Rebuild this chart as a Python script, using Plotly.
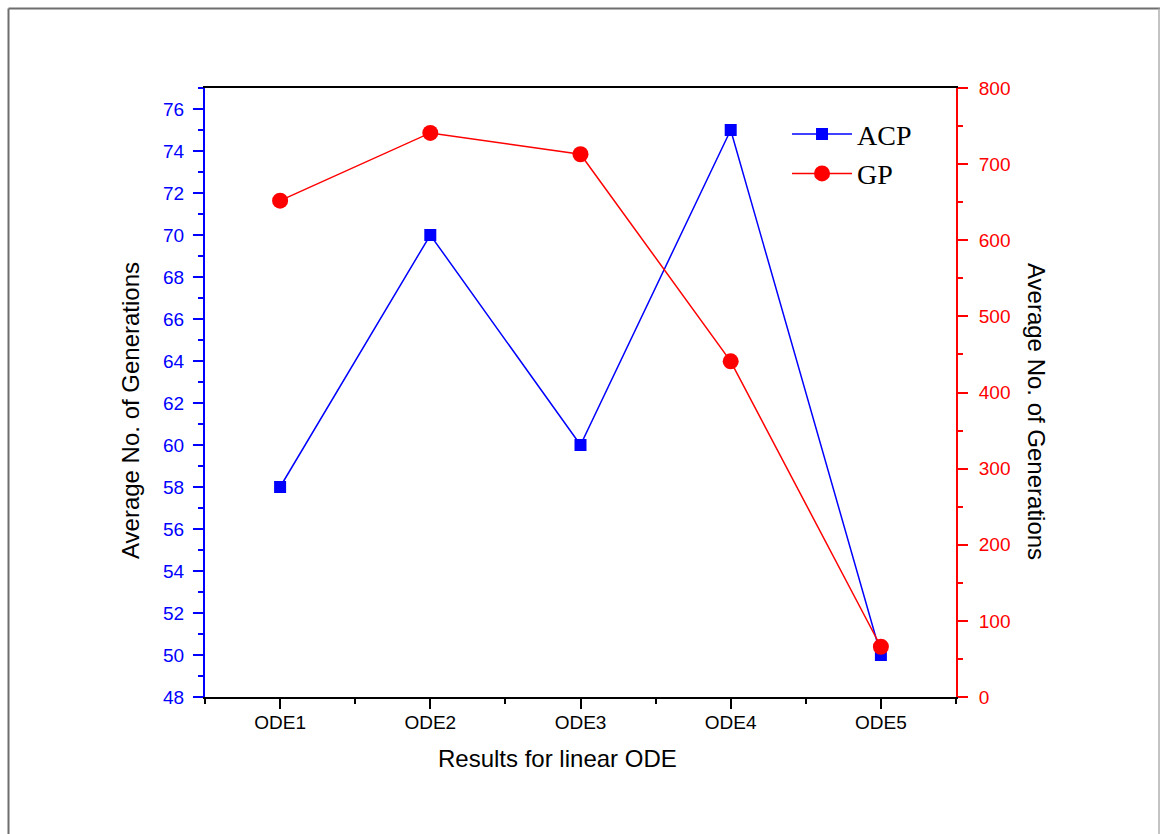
import plotly.graph_objects as go

categories = ["ODE1", "ODE2", "ODE3", "ODE4", "ODE5"]
x_pos = [1, 2, 3, 4, 5]
acp_values = [58, 70, 60, 75, 50]
gp_values = [652, 741, 713, 441, 66]

W, H = 1160, 834
L, R, T, B = 205, 956, 88, 697

fig = go.Figure()
fig.add_trace(go.Scatter(
    x=x_pos, y=acp_values, name="ACP", mode="lines+markers",
    line=dict(color="#0000ff", width=1.5),
    marker=dict(symbol="square", size=12, color="#0000ff"),
    yaxis="y"))
fig.add_trace(go.Scatter(
    x=x_pos, y=gp_values, name="GP", mode="lines+markers",
    line=dict(color="#ff0000", width=1.5),
    marker=dict(symbol="circle", size=16, color="#ff0000"),
    yaxis="y2"))

tickfont = dict(family="Liberation Sans, Arial", size=19)

fig.update_layout(
    width=W, height=H,
    margin=dict(l=L, r=W - R, t=T, b=H - B, pad=0),
    paper_bgcolor="white", plot_bgcolor="white",
    showlegend=True,
    legend=dict(x=0.775, y=0.965, xanchor="left", yanchor="top",
                font=dict(family="Liberation Serif, Times New Roman", size=28, color="black"),
                bgcolor="rgba(0,0,0,0)", tracegroupgap=0, itemwidth=60),
    xaxis=dict(range=[0.5, 5.5], tickmode="array", tickvals=x_pos, ticktext=categories,
               showline=True, linecolor="black", linewidth=2, mirror=True,
               ticks="outside", ticklen=10, tickwidth=2, tickcolor="black",
               minor=dict(tickmode="linear", tick0=0.5, dtick=1, ticks="outside",
                          ticklen=5, tickwidth=2, tickcolor="black"),
               showgrid=False, zeroline=False, ticklabelstandoff=-3,
               tickfont=dict(tickfont, color="black")),
    yaxis=dict(range=[48, 77], tick0=48, dtick=2,
               showline=True, linecolor="#0000ff", linewidth=2,
               ticks="outside", ticklen=10, tickwidth=2, tickcolor="#0000ff",
               minor=dict(tick0=48, dtick=1, ticks="outside", ticklen=5, tickwidth=2,
                          tickcolor="#0000ff"),
               showgrid=False, zeroline=False, ticklabelstandoff=5,
               tickfont=dict(tickfont, color="#0000ff")),
    yaxis2=dict(range=[0, 800], tick0=0, dtick=100, overlaying="y", side="right",
                showline=True, linecolor="#ff0000", linewidth=2,
                ticks="outside", ticklen=10, tickwidth=2, tickcolor="#ff0000",
                minor=dict(tick0=0, dtick=50, ticks="outside", ticklen=5, tickwidth=2,
                           tickcolor="#ff0000"),
                showgrid=False, zeroline=False, ticklabelstandoff=7,
                tickfont=dict(tickfont, color="#ff0000")),
)

def px_x(p):
    return (p - L) / (R - L)

def px_y(p):
    return (B - p) / (B - T)

titlefont = dict(family="Liberation Sans, Arial", size=24, color="black")
fig.add_annotation(text="Results for linear ODE", xref="paper", yref="paper",
                   x=px_x(557), y=px_y(758), showarrow=False, font=titlefont,
                   xanchor="center", yanchor="middle")
fig.add_annotation(text="Average No. of Generations", xref="paper", yref="paper",
                   x=px_x(130), y=px_y(411), showarrow=False, font=titlefont,
                   textangle=-90, xanchor="center", yanchor="middle")
fig.add_annotation(text="Average No. of Generations", xref="paper", yref="paper",
                   x=px_x(1037), y=px_y(411), showarrow=False, font=titlefont,
                   textangle=90, xanchor="center", yanchor="middle")

# outer frame
fig.add_shape(type="line", xref="paper", yref="paper", x0=px_x(8.5), x1=px_x(1160),
              y0=px_y(8.5), y1=px_y(8.5), line=dict(color="#6e6e6e", width=2))
fig.add_shape(type="line", xref="paper", yref="paper", x0=px_x(8.5), x1=px_x(8.5),
              y0=px_y(8.5), y1=px_y(840), line=dict(color="#6e6e6e", width=2))
fig.add_shape(type="line", xref="paper", yref="paper", x0=px_x(1159), x1=px_x(1159),
              y0=px_y(8.5), y1=px_y(840), line=dict(color="#b0b0b0", width=1.5))

fig.write_html("out.html")
